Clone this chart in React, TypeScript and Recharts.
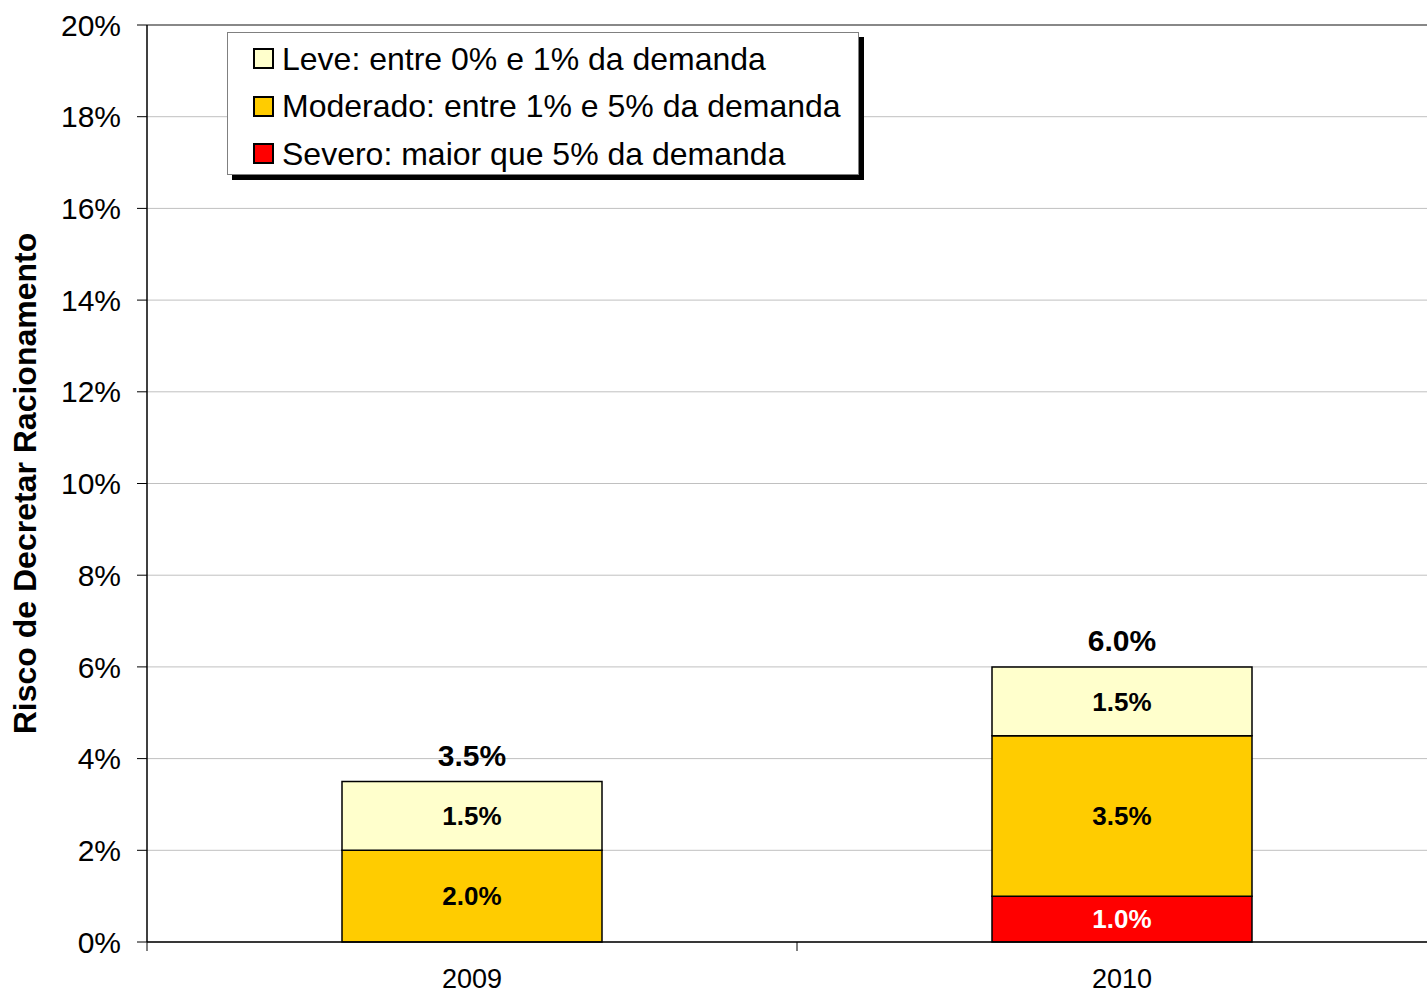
import { BarChart, Bar, XAxis, YAxis, CartesianGrid, LabelList, Label, ReferenceLine } from 'recharts';

const years = ['2009', '2010'];
const leve = [1.5, 1.5];
const moderado = [2.0, 3.5];
const severo = [0, 1.0];
const yTicks = [0, 2, 4, 6, 8, 10, 12, 14, 16, 18, 20];

const seriesInfo = [
  { key: 'leve', name: 'Leve: entre 0% e 1% da demanda', color: '#FFFFCC' },
  { key: 'moderado', name: 'Moderado: entre 1% e 5% da demanda', color: '#FFCC00' },
  { key: 'severo', name: 'Severo: maior que 5% da demanda', color: '#FF0000' },
];

const chartData = years.map((year, i) => ({
  year,
  leve: leve[i],
  moderado: moderado[i],
  severo: severo[i],
  total: leve[i] + moderado[i] + severo[i],
}));

const FONT = '"Liberation Sans", Arial, sans-serif';
const CHART_W = 1427;
const CHART_H = 994;
const Y_AXIS_W = 147;
// plot area runs a little past the right edge of the picture
const RIGHT_MARGIN = -20;
const halfBand = (CHART_W - Y_AXIS_W - RIGHT_MARGIN) / years.length / 2;

const fmt = (v: any) => (Number(v) === 0 ? '' : `${Number(v).toFixed(1)}%`);

const XTick = (props: any) => {
  const { x, y, payload, index } = props;
  return (
    <g>
      <line x1={x - halfBand} y1={y} x2={x - halfBand} y2={y + 9} stroke="#000" />
      {index === years.length - 1 && (
        <line x1={x + halfBand} y1={y} x2={x + halfBand} y2={y + 9} stroke="#000" />
      )}
      <text x={x} y={y + 46} textAnchor="middle" fontSize={27} fontFamily={FONT} fill="#000">
        {payload.value}
      </text>
    </g>
  );
};

const YTitle = (props: any) => {
  const { viewBox } = props;
  const cy = viewBox.y + viewBox.height / 2;
  return (
    <text
      x={25}
      y={cy}
      transform={`rotate(-90, 25, ${cy})`}
      textAnchor="middle"
      dominantBaseline="central"
      fontSize={32}
      fontWeight="bold"
      fontFamily={FONT}
      fill="#000"
    >
      Risco de Decretar Racionamento
    </text>
  );
};

const App = () => {
  return (
    <div style={{ position: 'absolute', left: 0, top: 0, width: CHART_W, height: CHART_H, background: '#fff', overflow: 'hidden' }}>
      <BarChart
        width={CHART_W}
        height={CHART_H}
        data={chartData}
        margin={{ top: 25, right: RIGHT_MARGIN, bottom: 12, left: 0 }}
      >
        <CartesianGrid horizontal vertical={false} stroke="#c0c0c0" />
        <ReferenceLine y={20} stroke="#888" strokeWidth={2} />
        <XAxis
          dataKey="year"
          height={40}
          axisLine={{ stroke: '#000', strokeWidth: 1.5 }}
          tickLine={false}
          tickSize={0}
          tickMargin={0}
          tick={<XTick />}
          interval={0}
        />
        <YAxis
          width={Y_AXIS_W}
          domain={[0, 20]}
          ticks={yTicks}
          interval={0}
          tickFormatter={(v) => `${v}%`}
          tick={{ fontSize: 30, fontFamily: FONT, fill: '#000' }}
          tickSize={10}
          tickMargin={16}
          axisLine={{ stroke: '#000', strokeWidth: 1.5 }}
          tickLine={{ stroke: '#000' }}
        >
          <Label content={<YTitle />} />
        </YAxis>
        <Bar dataKey="severo" stackId="a" fill="#FF0000" stroke="#000" strokeWidth={1.5} barSize={260} isAnimationActive={false}>
          <LabelList dataKey="severo" position="center" formatter={fmt} fill="#fff" fontSize={26} fontWeight="bold" fontFamily={FONT} />
        </Bar>
        <Bar dataKey="moderado" stackId="a" fill="#FFCC00" stroke="#000" strokeWidth={1.5} barSize={260} isAnimationActive={false}>
          <LabelList dataKey="moderado" position="center" formatter={fmt} fill="#000" fontSize={26} fontWeight="bold" fontFamily={FONT} />
        </Bar>
        <Bar dataKey="leve" stackId="a" fill="#FFFFCC" stroke="#000" strokeWidth={1.5} barSize={260} isAnimationActive={false}>
          <LabelList dataKey="leve" position="center" formatter={fmt} fill="#000" fontSize={26} fontWeight="bold" fontFamily={FONT} />
          <LabelList dataKey="total" position="top" offset={16} formatter={fmt} fill="#000" fontSize={30} fontWeight="bold" fontFamily={FONT} />
        </Bar>
      </BarChart>

      {/* legend box, drawn as html on top of the plot */}
      <div
        style={{
          position: 'absolute',
          left: 227,
          top: 32,
          width: 632,
          height: 143,
          border: '1px solid #808080',
          background: '#fff',
          boxShadow: '5px 5px 0 #000',
          fontFamily: FONT,
          fontSize: 32,
          color: '#000',
          boxSizing: 'border-box',
          paddingTop: 2,
        }}
      >
        {seriesInfo.map((s) => (
          <div key={s.key} style={{ display: 'flex', alignItems: 'center', height: 47.5, paddingLeft: 25 }}>
            <span
              style={{
                display: 'inline-block',
                width: 17,
                height: 17,
                background: s.color,
                border: '2px solid #000',
                marginRight: 8,
              }}
            />
            <span style={{ lineHeight: 1 }}>{s.name}</span>
          </div>
        ))}
      </div>
    </div>
  );
};

export default App;
